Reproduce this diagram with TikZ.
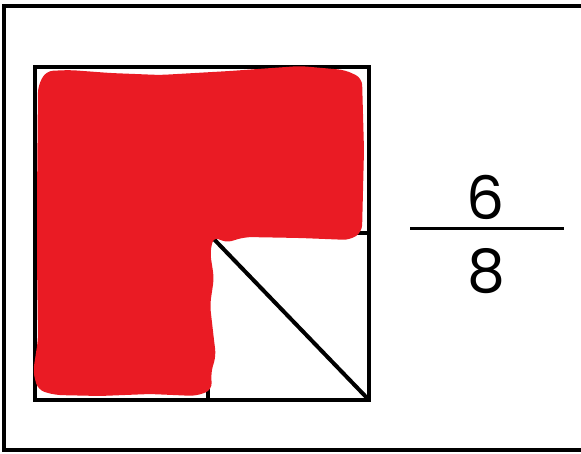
\documentclass[tikz,border=0pt]{standalone}
\usepackage{fontspec}
\setmainfont{Poppins}
\definecolor{scribble}{RGB}{234,27,36}
\begin{document}
\begin{tikzpicture}[x=1pt,y=-1pt,
  frameline/.style={line width=4pt,draw=black},
  sqline/.style={line width=4pt,draw=black},
  digit/.style={font=\fontsize{60}{60}\selectfont,inner sep=0pt,text=black}]
\useasboundingbox (0,0) rectangle (581,454);
% outer frame (right side off the picture)
\draw[frameline] (600,6) -- (4,6) -- (4,450) -- (600,450);
% square and its parts
\coordinate (tl) at (35,67);
\coordinate (br) at (369,400);
\coordinate (ml) at (208,233);
\coordinate (mr) at (369,233);
\coordinate (bm) at (208,400);
\draw[sqline] (tl) rectangle (br);
\draw[sqline] (ml) -- (mr);
\draw[sqline] (ml) -- (bm);
\draw[sqline] (ml) -- (br);
% red scribble (L shape)
\fill[scribble,rounded corners=7pt]
  (38,86) -- (46,71) -- (70,70) -- (110,73) -- (160,75) -- (230,71) -- (300,66)
  -- (345,70) -- (362,78) -- (364,150) -- (362,232) -- (350,240) -- (300,238)
  -- (245,237) -- (225,243) -- (214,236) -- (210,252) -- (214,278) -- (210,305)
  -- (214,340) -- (216,356) -- (211,372) -- (212,390) -- (196,396) -- (150,394)
  -- (100,396) -- (55,395) -- (38,390) -- (33,372) -- (38,340) -- (37,260)
  -- (37,200) -- cycle;
% fraction
\node[digit] (num) at (486,197) {6};
\node[digit] (den) at (486,271) {8};
\coordinate (fl) at (410,229);
\coordinate (fr) at (564,229);
\draw[line width=3pt] (fl) -- (fr);
\end{tikzpicture}
\end{document}
